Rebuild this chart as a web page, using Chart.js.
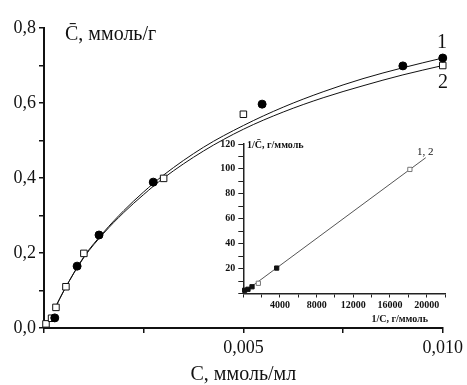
<!DOCTYPE html>
<html>
<head>
<meta charset="utf-8">
<script src="https://cdn.jsdelivr.net/npm/chart.js@4"></script>
<style>
  body { margin: 0; background: #fff; }
  #wrap { position: relative; width: 467px; height: 385px; font-family: 'Liberation Serif', serif; color: #111; }
  #main { position: absolute; left: 0; top: 0; }
  #inset { position: absolute; left: 200px; top: 130px; pointer-events: none; }
  .lbl { position: absolute; white-space: nowrap; }
  .big { font-size: 20px; line-height: 20px; }
  .small { font-size: 10px; line-height: 10px; font-weight: bold; }
</style>
</head>
<body>
<div id="wrap">
  <canvas id="main" width="467" height="385"></canvas>
  <canvas id="inset" width="267" height="200"></canvas>
  <div class="lbl big" style="left:65px; top:23px;">C&#772;, ммоль/г</div>
  <div class="lbl big" style="left:437px; top:31px;">1</div>
  <div class="lbl big" style="left:438px; top:71px;">2</div>
  <div class="lbl" style="left:417px; top:146px; font-size:11px; line-height:11px;">1, 2</div>
  <div class="lbl small" style="left:247px; top:140px;">1/C&#772;, г/ммоль</div>
  <div class="lbl small" style="right:39px; top:314px;">1/C, г/ммоль</div>
</div>
<script>
// основной график: C̄ от C
const curveX  = [0.0003, 0.0005, 0.001, 0.0015, 0.002, 0.0025, 0.003, 0.004, 0.005, 0.006, 0.007, 0.008, 0.009, 0.010];
const curve1Y = [0.058, 0.100, 0.190, 0.256, 0.313, 0.363, 0.408, 0.482, 0.540, 0.589, 0.630, 0.665, 0.694, 0.720];
const curve2Y = [0.058, 0.100, 0.188, 0.253, 0.308, 0.356, 0.400, 0.472, 0.530, 0.576, 0.614, 0.646, 0.675, 0.700];

const pts1X = [0.00027, 0.00083, 0.00138, 0.00274, 0.00547, 0.0090, 0.0100];
const pts1Y = [0.027, 0.165, 0.248, 0.389, 0.597, 0.699, 0.720];
const pts2X = [0.00005, 0.00019, 0.0003, 0.00055, 0.001, 0.003, 0.005, 0.010];
const pts2Y = [0.011, 0.026, 0.055, 0.110, 0.199, 0.399, 0.570, 0.700];

// врезка: 1/C̄ от 1/C
const lineX = [200, 19900];
const lineY = [1.8, 109];
const insFilledX = [150, 510, 950, 3640];
const insFilledY = [2.6, 3.4, 5.4, 20.4];
const insOpenX = [1640, 18170];
const insOpenY = [8.2, 99.6];

const xy = (xs, ys) => xs.map((x, i) => ({ x: x, y: ys[i] }));
const comma = s => s.replace('.', ',');

const serif = 'Liberation Serif';

new Chart(document.getElementById('main'), {
    type: 'scatter',
    data: {
        datasets: [
            { data: xy(curveX, curve1Y), showLine: true, cubicInterpolationMode: 'monotone', borderColor: '#111', borderWidth: 1, pointRadius: 0, order: 3 },
            { data: xy(curveX, curve2Y), showLine: true, cubicInterpolationMode: 'monotone', borderColor: '#111', borderWidth: 1, pointRadius: 0, order: 3 },
            { data: xy(pts2X, pts2Y), pointStyle: 'rect', pointRadius: 4.6, backgroundColor: '#fff', borderColor: '#111', borderWidth: 1, clip: false, order: 2 },
            { data: xy(pts1X, pts1Y), pointStyle: 'circle', pointRadius: 4, backgroundColor: '#000', borderColor: '#000', borderWidth: 1, clip: false, order: 1 }
        ]
    },
    options: {
        responsive: false,
        animation: false,
        events: [],
        layout: { padding: { top: 28, right: 21, left: 0, bottom: 0 } },
        plugins: { legend: { display: false }, tooltip: { enabled: false } },
        scales: {
            x: {
                type: 'linear', min: 0, max: 0.01,
                afterFit: s => { s.height = 57; },
                border: { display: true, color: '#111', width: 2 },
                grid: { drawOnChartArea: false, drawTicks: true, tickLength: 5, color: '#111', lineWidth: 1.5 },
                ticks: {
                    stepSize: 0.0025, padding: 4, color: '#111', maxRotation: 0, autoSkip: false,
                    font: { family: serif, size: 18 },
                    callback: v => {
                        const k = Math.round(v / 0.0025);
                        return (k > 0 && k % 2 === 0) ? comma(v.toFixed(3)) : '';
                    }
                },
                title: { display: true, text: 'C, ммоль/мл', color: '#111', padding: { top: 0, bottom: 0 }, font: { family: serif, size: 20, lineHeight: 1 } }
            },
            y: {
                type: 'linear', min: 0, max: 0.8,
                afterFit: s => { s.width = 44; },
                border: { display: true, color: '#111', width: 2 },
                grid: { drawOnChartArea: false, drawTicks: true, tickLength: 5, color: '#111', lineWidth: 1.5 },
                ticks: {
                    stepSize: 0.1, padding: 3, color: '#111', autoSkip: false,
                    font: { family: serif, size: 18 },
                    callback: v => (Math.round(v * 10) % 2 === 0) ? comma(v.toFixed(1)) : ''
                }
            }
        }
    }
});

new Chart(document.getElementById('inset'), {
    type: 'scatter',
    data: {
        datasets: [
            { data: xy(lineX, lineY), showLine: true, borderColor: '#555', borderWidth: 1, pointRadius: 0, order: 3 },
            { data: xy(insOpenX, insOpenY), pointStyle: 'rect', pointRadius: 3, backgroundColor: '#fff', borderColor: '#777', borderWidth: 1, clip: false, order: 2 },
            { data: xy(insFilledX, insFilledY), pointStyle: 'rect', pointRadius: 3, backgroundColor: '#111', borderColor: '#111', borderWidth: 1, clip: false, order: 1 }
        ]
    },
    options: {
        responsive: false,
        animation: false,
        events: [],
        layout: { padding: { top: 14, right: 22, left: 0, bottom: 0 } },
        plugins: { legend: { display: false }, tooltip: { enabled: false } },
        scales: {
            x: {
                type: 'linear', min: 0, max: 22000,
                afterFit: s => { s.height = 36.5; },
                border: { display: true, color: '#222', width: 1.5 },
                grid: { drawOnChartArea: false, drawTicks: true, tickLength: 4, color: '#222', lineWidth: 1 },
                ticks: {
                    stepSize: 2000, padding: 2, color: '#111', maxRotation: 0, autoSkip: false,
                    font: { family: serif, size: 10, weight: 'bold' },
                    callback: v => (v > 0 && v % 4000 === 0) ? String(v) : ''
                }
            },
            y: {
                type: 'linear', min: 0, max: 120,
                afterFit: s => { s.width = 43.3; },
                border: { display: true, color: '#222', width: 1.5 },
                grid: { drawOnChartArea: false, drawTicks: true, tickLength: 5, color: '#222', lineWidth: 1 },
                ticks: {
                    stepSize: 10, padding: 3, color: '#111', autoSkip: false,
                    font: { family: serif, size: 10, weight: 'bold' },
                    callback: v => (v > 0 && v % 20 === 0) ? String(v) : ''
                }
            }
        }
    }
});
</script>
</body>
</html>
